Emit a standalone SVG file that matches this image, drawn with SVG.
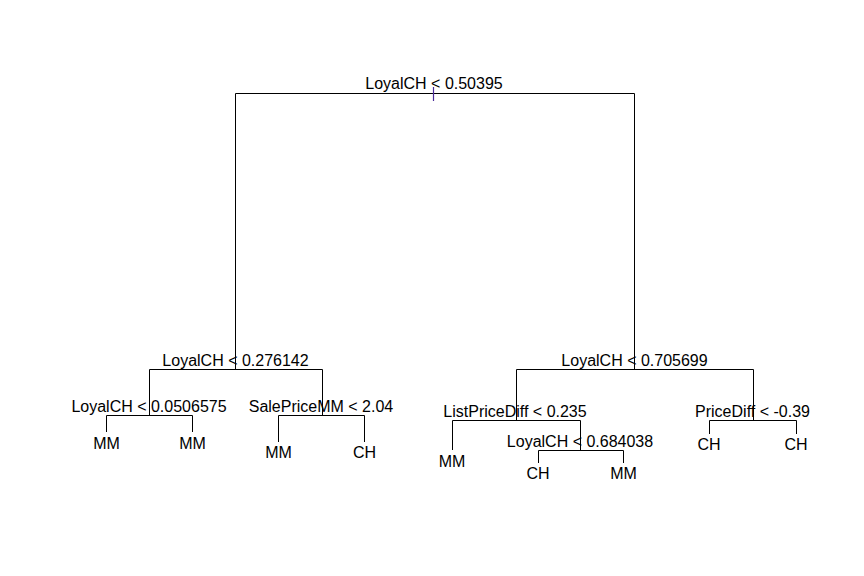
<svg xmlns="http://www.w3.org/2000/svg" width="864" height="576" viewBox="0 0 864 576">
<style>
.e{stroke:#000;stroke-width:1;fill:none}
text{font-family:"Liberation Sans",Arial,sans-serif;font-size:16px;fill:#000;text-anchor:middle}
</style>
<rect width="864" height="576" fill="#fff"/>
<g id="connectors">
<path class="e" d="M235.5,369.5V93.5H634.5V369.5"/>
<path class="e" d="M149.5,415.5V369.5H322.5V415.5"/>
<path class="e" d="M106.5,432V415.5H192.5V432"/>
<path class="e" d="M278.5,442V415.5H364.5V442"/>
<path class="e" d="M516.5,420.5V369.5H753.5V420.5"/>
<path class="e" d="M452.5,450V420.5H580.5V450.5"/>
<path class="e" d="M538.5,463V450.5H623.5V463"/>
<path class="e" d="M709.5,434V420.5H796.5V434"/>
<path d="M433.5,87V101" stroke="#4b2a9a" stroke-width="1.2"/>
</g>
<g id="n1"><text x="434" y="89">LoyalCH &lt; 0.50395</text></g>
<g id="n2"><text x="235.5" y="365.5">LoyalCH &lt; 0.276142</text></g>
<g id="n3"><text x="634.5" y="365.5">LoyalCH &lt; 0.705699</text></g>
<g id="n4"><text x="149" y="411.5">LoyalCH &lt; 0.0506575</text></g>
<g id="n5"><text x="321" y="411.5">SalePriceMM &lt; 2.04</text></g>
<g id="n6"><text x="515" y="416.5">ListPriceDiff &lt; 0.235</text></g>
<g id="n7"><text x="752.5" y="416.5">PriceDiff &lt; -0.39</text></g>
<g id="n8"><text x="580" y="446.5">LoyalCH &lt; 0.684038</text></g>
<g id="l1"><text x="106.5" y="448.5">MM</text></g>
<g id="l2"><text x="192.5" y="448.5">MM</text></g>
<g id="l3"><text x="278.5" y="458">MM</text></g>
<g id="l4"><text x="364.5" y="458">CH</text></g>
<g id="l5"><text x="452" y="466.5">MM</text></g>
<g id="l6"><text x="538" y="479">CH</text></g>
<g id="l7"><text x="623.5" y="479">MM</text></g>
<g id="l8"><text x="709" y="450">CH</text></g>
<g id="l9"><text x="796" y="450">CH</text></g>
</svg>
